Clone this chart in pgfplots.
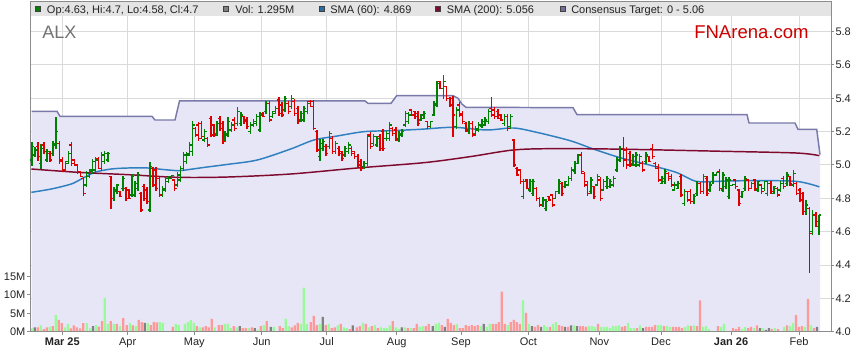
\documentclass[border=0pt]{standalone}
\usepackage{pgfplots}
\pgfplotsset{compat=1.18}
\usepackage{pgfplotstable}
\usepackage{fontspec}
\setmainfont{Liberation Sans}

\definecolor{bargreen}{RGB}{0,128,0}
\definecolor{barred}{RGB}{221,0,0}
\definecolor{volgreen}{RGB}{152,250,152}
\definecolor{volred}{RGB}{255,152,152}
\definecolor{volgray}{RGB}{128,128,128}
\definecolor{lav}{RGB}{230,230,246}
\definecolor{consline}{RGB}{122,122,170}
\definecolor{smablue}{RGB}{48,128,192}
\definecolor{smared}{RGB}{128,10,45}
\definecolor{gridc}{RGB}{218,218,218}
\definecolor{framec}{RGB}{140,140,140}
\definecolor{bandc}{RGB}{228,228,228}
\definecolor{txt}{RGB}{35,35,35}
\definecolor{fnred}{RGB}{204,0,0}

\newcommand{\lbl}{\fontsize{8.25}{9.9}\selectfont}

\pgfdeclareplotmark{otick}{\pgfpathmoveto{\pgfqpoint{-1.7pt}{0pt}}\pgfpathlineto{\pgfqpoint{0pt}{0pt}}\pgfusepathqstroke}
\pgfdeclareplotmark{ctick}{\pgfpathmoveto{\pgfqpoint{0pt}{0pt}}\pgfpathlineto{\pgfqpoint{1.7pt}{0pt}}\pgfusepathqstroke}

\pgfplotstableread{
x h l o c
32.0 5.136 4.996 5.03 5.11
35.0 5.106 5.046 5.06 5.09
41.1 5.126 4.976 5.01 5.10
47.2 5.096 5.016 5.03 5.08
53.2 5.146 5.056 5.07 5.13
56.2 5.290 5.096 5.12 5.20
65.3 5.026 4.956 4.97 5.01
68.4 5.086 5.006 5.02 5.07
86.5 4.966 4.866 4.88 4.95
89.6 4.976 4.926 4.93 4.97
92.6 5.036 4.946 4.96 5.02
95.6 5.046 4.956 4.97 5.03
101.7 5.076 4.966 4.98 5.06
104.7 5.086 5.006 5.02 5.07
107.8 5.076 5.016 5.03 5.07
113.8 4.866 4.786 4.80 4.85
116.8 4.886 4.826 4.84 4.88
122.9 4.936 4.846 4.86 4.92
132.0 4.946 4.806 4.82 4.93
135.0 4.906 4.806 4.82 4.89
138.1 4.956 4.846 4.86 4.94
150.2 5.016 4.716 4.73 4.99
162.3 4.876 4.806 4.82 4.86
165.3 4.936 4.836 4.85 4.92
168.4 4.936 4.896 4.90 4.93
171.4 4.936 4.916 4.92 4.935
177.4 4.956 4.866 4.88 4.94
180.5 4.996 4.896 4.91 4.98
183.5 5.076 4.966 4.98 5.06
186.5 5.076 5.006 5.02 5.06
189.6 5.136 5.056 5.07 5.12
192.6 5.266 5.056 5.08 5.24
204.7 5.216 5.136 5.15 5.20
216.8 5.266 5.176 5.19 5.25
225.0 5.206 5.136 5.15 5.19
228.2 5.286 5.166 5.18 5.26
231.3 5.256 5.196 5.21 5.24
237.7 5.346 5.236 5.25 5.32
240.8 5.316 5.236 5.25 5.30
250.3 5.256 5.186 5.20 5.24
253.5 5.276 5.226 5.24 5.26
256.6 5.306 5.236 5.25 5.29
259.8 5.316 5.196 5.21 5.30
266.1 5.386 5.306 5.32 5.37
272.5 5.326 5.286 5.29 5.32
275.6 5.356 5.306 5.31 5.34
285.1 5.416 5.316 5.33 5.40
291.4 5.420 5.336 5.35 5.40
300.9 5.326 5.256 5.27 5.31
304.1 5.356 5.256 5.27 5.34
307.3 5.386 5.306 5.32 5.37
319.9 5.156 5.026 5.05 5.13
323.1 5.156 5.086 5.10 5.14
329.4 5.206 5.096 5.11 5.19
335.7 5.146 5.066 5.08 5.13
345.2 5.116 5.046 5.06 5.10
348.4 5.136 5.066 5.08 5.12
364.2 5.026 4.976 4.99 5.01
367.4 5.186 4.996 5.01 5.17
373.7 5.186 5.116 5.13 5.17
376.9 5.176 5.106 5.12 5.16
386.4 5.206 5.146 5.16 5.19
389.5 5.256 5.146 5.16 5.24
399.0 5.206 5.136 5.15 5.19
402.2 5.216 5.166 5.18 5.20
405.3 5.326 5.226 5.24 5.31
408.5 5.316 5.246 5.26 5.30
421.0 5.306 5.266 5.27 5.30
424.2 5.326 5.276 5.28 5.31
430.6 5.266 5.226 5.23 5.26
433.8 5.386 5.296 5.30 5.37
437.0 5.506 5.346 5.36 5.49
443.4 5.542 5.396 5.46 5.50
456.3 5.346 5.216 5.23 5.33
469.1 5.266 5.186 5.20 5.25
475.5 5.236 5.176 5.19 5.22
478.7 5.256 5.196 5.21 5.24
481.9 5.276 5.226 5.23 5.26
485.1 5.286 5.236 5.24 5.27
488.3 5.336 5.246 5.26 5.32
504.3 5.306 5.236 5.25 5.29
510.7 5.306 5.216 5.23 5.29
523.6 4.916 4.796 4.81 4.90
530.0 4.916 4.836 4.85 4.90
533.2 4.916 4.816 4.83 4.90
542.8 4.806 4.746 4.76 4.79
546.0 4.796 4.726 4.74 4.78
555.6 4.846 4.796 4.80 4.84
558.8 4.916 4.826 4.84 4.90
565.2 4.906 4.866 4.87 4.90
568.4 4.936 4.876 4.88 4.92
571.6 4.986 4.906 4.92 4.97
574.8 5.026 4.946 4.96 5.01
578.0 5.066 5.006 5.01 5.06
590.9 4.926 4.826 4.84 4.91
597.3 4.946 4.876 4.88 4.93
603.7 4.916 4.846 4.85 4.90
606.9 4.936 4.856 4.87 4.92
610.1 4.916 4.866 4.87 4.90
613.3 4.936 4.866 4.88 4.92
617.0 5.046 4.956 4.97 5.03
620.2 5.116 5.016 5.03 5.10
633.0 5.066 4.996 5.01 5.05
636.2 5.076 4.986 5.00 5.06
639.4 5.066 4.986 5.00 5.05
645.9 5.076 5.006 5.02 5.06
661.9 4.936 4.886 4.89 4.92
665.1 4.976 4.886 4.90 4.96
674.7 4.896 4.846 4.85 4.88
677.9 4.906 4.856 4.86 4.89
684.3 4.856 4.756 4.77 4.84
693.9 4.826 4.766 4.78 4.81
697.2 4.906 4.816 4.83 4.89
703.6 4.946 4.826 4.84 4.93
710.0 4.896 4.836 4.85 4.88
713.2 4.956 4.886 4.90 4.94
716.4 4.956 4.936 4.94 4.955
722.8 4.956 4.836 4.85 4.94
726.0 4.926 4.856 4.87 4.91
729.2 4.926 4.796 4.81 4.91
732.4 4.886 4.876 4.877 4.885
742.0 4.846 4.806 4.81 4.84
745.2 4.936 4.846 4.86 4.92
751.7 4.896 4.856 4.86 4.89
758.1 4.906 4.836 4.85 4.90
764.5 4.906 4.846 4.86 4.90
767.7 4.906 4.816 4.83 4.89
774.1 4.876 4.826 4.83 4.87
780.5 4.906 4.836 4.85 4.89
786.9 4.956 4.876 4.89 4.94
793.3 4.970 4.866 4.88 4.95
806.2 4.79 4.70 4.72 4.76
812.6 4.73 4.58 4.60 4.70
819.0 4.70 4.58 4.63 4.70
}\upbars

\pgfplotstableread{
x h l o c
38.1 5.136 5.026 5.11 5.05
44.1 5.136 5.066 5.12 5.08
50.2 5.086 5.016 5.07 5.03
59.3 5.146 5.006 5.13 5.02
62.3 5.046 4.956 5.03 4.97
71.4 5.136 4.996 5.12 5.01
74.4 5.036 4.996 5.03 5.00
77.5 5.006 4.946 5.00 4.96
80.5 4.966 4.926 4.96 4.93
83.5 4.926 4.816 4.92 4.83
98.7 5.046 4.976 5.04 4.98
110.8 4.936 4.736 4.93 4.80
119.9 4.846 4.806 4.84 4.81
125.9 4.866 4.786 4.86 4.80
129.0 4.856 4.796 4.85 4.80
141.1 4.836 4.716 4.83 4.73
144.1 4.886 4.786 4.87 4.80
147.1 4.866 4.766 4.85 4.78
153.2 4.986 4.866 4.98 4.88
156.2 4.986 4.846 4.97 4.86
159.3 4.926 4.806 4.92 4.82
174.4 4.916 4.846 4.91 4.86
195.6 5.226 5.166 5.22 5.18
198.7 5.256 5.146 5.24 5.16
201.7 5.266 5.156 5.25 5.17
207.7 5.166 5.106 5.16 5.12
210.8 5.296 5.166 5.28 5.18
213.8 5.246 5.166 5.24 5.18
219.9 5.296 5.206 5.28 5.22
222.9 5.266 5.126 5.25 5.14
234.5 5.286 5.206 5.27 5.22
244.0 5.296 5.246 5.29 5.26
247.1 5.286 5.216 5.27 5.23
263.0 5.316 5.286 5.31 5.29
269.3 5.386 5.256 5.37 5.27
278.8 5.406 5.296 5.39 5.31
282.0 5.376 5.286 5.36 5.30
288.3 5.386 5.306 5.37 5.32
294.6 5.396 5.296 5.38 5.31
297.8 5.356 5.246 5.34 5.26
310.4 5.390 5.346 5.38 5.35
313.6 5.390 5.210 5.38 5.22
316.8 5.210 5.076 5.20 5.09
326.2 5.126 5.056 5.11 5.07
332.6 5.176 5.066 5.16 5.08
338.9 5.116 5.056 5.10 5.07
342.1 5.086 5.026 5.08 5.04
351.6 5.116 5.056 5.10 5.07
354.7 5.086 5.036 5.08 5.05
357.9 5.066 4.986 5.05 5.00
361.1 5.036 4.966 5.02 4.98
370.5 5.196 5.096 5.18 5.11
380.0 5.186 5.086 5.17 5.10
383.2 5.216 5.086 5.20 5.10
392.7 5.226 5.176 5.22 5.19
395.9 5.226 5.146 5.21 5.16
411.7 5.336 5.296 5.33 5.30
414.8 5.326 5.276 5.32 5.29
418.0 5.326 5.236 5.31 5.25
427.4 5.266 5.216 5.26 5.23
440.2 5.506 5.456 5.50 5.46
446.6 5.476 5.386 5.47 5.40
449.8 5.406 5.346 5.40 5.36
453.1 5.416 5.166 5.40 5.30
459.5 5.376 5.286 5.36 5.30
462.7 5.326 5.246 5.31 5.26
465.9 5.256 5.196 5.25 5.21
472.3 5.266 5.166 5.25 5.18
491.5 5.406 5.286 5.34 5.30
494.7 5.346 5.276 5.33 5.29
497.9 5.336 5.276 5.32 5.28
501.1 5.306 5.266 5.30 5.27
507.5 5.306 5.206 5.29 5.22
513.9 5.156 4.986 5.15 5.00
517.2 4.986 4.936 4.98 4.94
520.4 4.976 4.886 4.97 4.90
526.8 4.916 4.856 4.91 4.86
536.4 4.866 4.786 4.86 4.80
539.6 4.806 4.746 4.80 4.76
549.2 4.816 4.786 4.81 4.79
552.4 4.826 4.746 4.82 4.76
562.0 4.896 4.816 4.89 4.83
581.3 5.076 4.946 5.06 4.96
584.5 4.956 4.866 4.95 4.88
587.7 4.906 4.816 4.90 4.83
594.1 4.876 4.796 4.87 4.81
600.5 4.926 4.786 4.91 4.80
623.4 5.166 4.986 5.10 5.03
626.6 5.106 4.976 5.09 5.00
629.8 5.086 4.986 5.07 5.00
642.6 5.026 4.956 5.01 4.97
649.1 5.056 5.016 5.05 5.02
652.3 5.126 5.036 5.10 5.05
655.5 5.016 4.976 5.01 4.98
658.7 5.006 4.896 4.99 4.91
668.3 4.956 4.906 4.95 4.92
671.5 4.946 4.866 4.93 4.88
681.1 4.946 4.806 4.93 4.82
687.5 4.846 4.776 4.84 4.79
690.7 4.856 4.766 4.84 4.78
700.4 4.896 4.826 4.89 4.84
706.8 4.936 4.816 4.92 4.83
719.6 4.976 4.846 4.96 4.86
735.6 4.916 4.856 4.91 4.87
738.8 4.856 4.756 4.85 4.77
748.5 4.916 4.846 4.91 4.86
754.9 4.916 4.846 4.91 4.86
761.3 4.886 4.826 4.88 4.84
770.9 4.906 4.826 4.89 4.84
777.3 4.866 4.806 4.86 4.82
783.7 4.936 4.856 4.92 4.87
790.1 4.936 4.876 4.93 4.89
796.5 4.90 4.82 4.89 4.83
799.8 4.86 4.78 4.85 4.79
803.0 4.84 4.70 4.83 4.72
809.4 4.75 4.35 4.74 4.59
815.8 4.72 4.63 4.70 4.66
}\dnbars

\pgfplotstableread{
x v
31.7 0.9
40.7 1.7
49.7 1.3
55.7 4.5
65.0 1.2
68.0 2.1
86.7 2.3
90.0 0.9
96.0 1.8
104.7 9.2
107.7 2.1
113.7 2.1
120.0 1.5
130.0 2.3
135.7 1.5
147.7 2.3
159.7 2.6
162.7 2.4
175.7 2.1
178.7 1.8
184.7 2.1
187.7 2.6
190.7 3.2
193.7 2.4
199.7 1.2
214.7 1.2
224.7 2.1
227.7 2.1
230.7 1.0
236.7 1.2
248.7 1.0
257.7 0.5
263.7 1.8
273.7 1.3
285.7 3.5
288.7 1.5
300.7 2.1
303.7 12.0
306.7 2.1
319.7 2.1
328.7 2.1
337.7 1.7
343.7 1.2
346.7 1.0
362.7 2.4
368.7 1.2
374.7 1.8
380.7 1.2
383.7 1.0
386.7 1.0
389.7 1.7
395.7 1.2
398.7 0.7
404.7 1.2
410.7 1.0
419.7 1.3
422.7 1.5
435.7 2.1
438.7 2.4
456.7 2.1
480.7 1.5
486.7 1.3
489.7 2.1
507.7 1.8
523.0 8.5
529.0 2.1
544.0 1.8
547.0 1.3
553.0 2.1
556.0 2.6
574.0 1.7
589.0 1.5
592.0 1.5
595.0 1.3
601.0 1.3
604.0 1.3
607.0 1.3
610.0 1.0
613.0 1.5
616.0 1.5
619.0 1.7
628.0 2.4
631.0 1.0
634.0 1.0
640.0 1.7
658.0 1.8
661.0 1.8
667.0 1.5
670.0 1.3
685.0 1.3
688.0 1.7
694.0 1.7
703.0 1.3
706.0 1.5
709.0 0.7
721.0 1.3
724.0 2.1
742.0 0.7
745.0 1.3
754.0 1.0
763.0 1.0
775.0 1.0
784.0 1.3
790.0 1.5
793.0 2.4
805.0 1.3
811.0 1.7
}\volg

\pgfplotstableread{
x v
37.7 1.2
43.7 0.7
46.7 1.2
52.7 1.5
58.7 3.2
61.7 2.3
70.7 0.9
73.7 1.7
76.7 1.2
80.0 0.9
83.3 2.3
98.7 1.4
102.0 2.9
110.7 2.9
116.7 2.1
123.3 3.7
126.7 1.8
132.7 1.7
138.7 3.2
141.7 2.6
150.7 1.8
153.7 2.6
156.7 2.5
172.7 1.3
196.7 1.5
202.7 1.2
205.7 1.5
208.7 1.2
211.7 3.5
218.7 1.8
221.7 1.8
233.7 1.5
242.7 1.0
245.7 1.0
251.7 1.2
260.7 1.5
266.7 2.9
279.7 1.5
282.7 1.0
291.7 1.2
294.7 1.7
297.7 2.4
310.7 2.6
313.7 4.3
316.7 1.8
325.7 1.8
331.7 1.0
334.7 1.2
340.7 2.1
349.7 0.7
356.7 1.2
359.7 1.5
365.7 2.1
371.7 1.5
377.7 1.0
392.7 2.9
407.7 1.0
413.7 1.0
416.7 2.1
425.7 1.5
428.7 2.1
441.7 1.8
447.7 3.5
450.7 2.4
453.7 1.8
459.7 1.0
462.7 1.0
465.7 1.8
468.7 1.5
471.7 1.8
474.7 1.5
477.7 1.8
492.7 2.1
495.7 2.1
498.7 2.6
501.7 10.9
504.7 2.1
510.7 2.6
513.7 3.2
516.7 2.6
519.7 2.1
526.0 5.1
535.0 1.3
538.0 1.8
550.0 1.3
559.0 1.8
562.0 1.5
568.0 1.3
580.0 1.5
583.0 1.5
586.0 1.3
598.0 2.1
622.0 1.3
625.0 1.5
637.0 1.0
646.0 1.3
649.0 1.3
652.0 1.3
655.0 1.8
664.0 1.5
673.0 1.3
676.0 1.3
679.0 1.3
682.0 1.0
691.0 1.5
697.0 1.5
700.0 8.5
718.0 1.5
733.0 1.0
736.0 0.7
739.0 1.3
748.0 1.0
751.0 1.3
757.0 1.7
772.0 0.7
778.0 0.7
787.0 1.7
796.0 4.5
799.0 1.3
802.0 1.5
808.0 8.9
814.0 1.0
}\volr

\pgfplotstableread{
x v
34.7 1.2
93.0 1.5
144.7 2.4
239.7 1.5
254.7 1.0
270.7 1.3
322.7 4.0
352.7 1.7
401.7 1.2
432.7 1.5
444.7 1.3
483.7 2.1
532.0 1.5
541.0 1.3
565.0 1.3
571.0 1.7
577.0 1.5
643.0 1.0
760.0 1.0
766.0 0.5
769.0 1.0
817.0 1.3
}\volk

\pgfplotstableread{
x p
31.7 5.322
57 5.322
60 5.292
152 5.292
155 5.270
175 5.270
179.5 5.384
365 5.384
368 5.370
391 5.370
396.7 5.416
453 5.416
458 5.400
462 5.365
466 5.346
573 5.344
577 5.302
747 5.302
749 5.252
795 5.252
798 5.214
816.7 5.214
820 5.062
}\cons

\pgfplotstableread{
x p
31.3 4.836
51.3 4.856
71.3 4.886
81.3 4.916
94.7 4.956
111.3 4.976
128 4.982
148 4.982
161.3 4.974
178 4.966
188 4.972
204.7 4.986
228 5.004
257.3 5.030
290.7 5.096
314 5.150
337.3 5.174
364 5.200
390.7 5.206
420 5.214
453.3 5.226
486.7 5.210
513.3 5.222
536.7 5.196
570 5.146
593.3 5.096
620 5.044
649.3 5.000
676 4.956
696 4.902
716 4.902
749.3 4.906
796 4.902
819.3 4.869
}\smasixty

\pgfplotstableread{
x p
31.3 4.976
78 4.956
128 4.942
178 4.926
228 4.928
290.7 4.946
357.3 4.982
424 5.014
470 5.050
513.3 5.090
553.3 5.098
620 5.095
716 5.083
796 5.072
819.3 5.056
}\smatwo

\pgfplotsset{base/.style={at={(22.5pt,23.25pt)}, anchor=south west,
  width=600.75pt, height=247.5pt, scale only axis,
  xmin=30, xmax=831, enlargelimits=false, clip=true}}

\begin{document}
\begin{tikzpicture}
\useasboundingbox (0,0) rectangle (644.25pt,272.25pt);

% axis 1: grid, ticks, consensus area
\begin{axis}[base, ymin=3.9982, ymax=5.9778,
  axis line style={draw=none},
  grid=major, grid style={gridc, line width=0.75pt},
  xtick={62.3,127.7,194.3,261.7,326.7,396.7,461,528.3,599.3,661,731,799},
  xticklabels={\textbf{Mar 25},Apr,May,Jun,Jul,Aug,Sep,Oct,Nov,Dec,\textbf{Jan 26},Feb},
  xtick pos=left,
  ytick={4.0,4.2,4.4,4.6,4.8,5.0,5.2,5.4,5.6,5.8},
  ytick pos=right, yticklabel pos=right,
  tick align=outside, major tick length=2.6pt,
  tick style={framec, line width=0.75pt},
  xticklabel style={font=\lbl, text=txt, inner sep=1.3pt},
  yticklabel style={font=\lbl, text=txt, inner sep=0.6pt,
    /pgf/number format/fixed, /pgf/number format/fixed zerofill,
    /pgf/number format/precision=1},
  /pgf/number format/assume math mode=true]
\addplot[fill=lav, draw=none, forget plot] table[x=x, y=p] {\cons} \closedcycle;
\addplot[consline, line width=1.1pt] table[x=x, y=p] {\cons};
\end{axis}

% axis 2: volume
\begin{axis}[base, ymin=-0.0815, ymax=89.59,
  axis line style={draw=none},
  xtick=\empty,
  ytick={0,5,10,15}, yticklabels={0M,5M,10M,15M},
  ytick pos=left,
  tick align=outside, major tick length=2.3pt,
  tick style={framec, line width=0.75pt},
  yticklabel style={font=\lbl, text=txt, inner sep=1pt}]
\addplot[ybar, bar width=1.7pt, bar shift=0pt, fill=volgreen, draw=none] table[x=x, y=v] {\volg};
\addplot[ybar, bar width=1.7pt, bar shift=0pt, fill=volred, draw=none] table[x=x, y=v] {\volr};
\addplot[ybar, bar width=1.7pt, bar shift=0pt, fill=volgray, draw=none] table[x=x, y=v] {\volk};
\end{axis}

% axis 3: SMAs and OHLC bars, frame
\begin{axis}[base, ymin=3.9982, ymax=5.9778,
  axis line style={framec, line width=0.75pt},
  xtick=\empty, ytick=\empty]
\addplot[smablue, line width=1.1pt, smooth, tension=0.5] table[x=x, y=p] {\smasixty};
\addplot[smared, line width=1.1pt, smooth, tension=0.5] table[x=x, y=p] {\smatwo};

% up bars: high-low line with open tick (mark), then close tick
\addplot[only marks, mark=otick, mark options={bargreen, line width=0.9pt}, forget plot,
  error bars/.cd, y dir=both, y explicit, error mark=none,
  error bar style={bargreen, line width=1.15pt}]
  table[x=x, y=o, y error plus expr={\thisrow{h}-\thisrow{o}}, y error minus expr={\thisrow{o}-\thisrow{l}}] {\upbars};
\addplot[only marks, mark=ctick, mark options={bargreen, line width=0.9pt}, forget plot] table[x=x, y=c] {\upbars};

% down bars
\addplot[only marks, mark=otick, mark options={barred, line width=0.9pt}, forget plot,
  error bars/.cd, y dir=both, y explicit, error mark=none,
  error bar style={barred, line width=1.15pt}]
  table[x=x, y=o, y error plus expr={\thisrow{h}-\thisrow{o}}, y error minus expr={\thisrow{o}-\thisrow{l}}] {\dnbars};
\addplot[only marks, mark=ctick, mark options={barred, line width=0.9pt}, forget plot] table[x=x, y=c] {\dnbars};
\end{axis}

% header band, legend and titles (pixel coordinates from top-left)
\begin{scope}[x=0.75pt, y=-0.75pt, shift={(0pt,272.25pt)}]
\fill[bandc] (30.5,2.3) rectangle (830.5,16);
\filldraw[fill=bargreen, draw=black!75, line width=0.5pt] (35.7,6.6) rectangle (40.6,11.6);
\node[anchor=base west, inner sep=0pt, text=txt, font=\lbl] at (46.7,13.2) {Op:4.63, Hi:4.7, Lo:4.58, Cl:4.7};
\filldraw[fill=volgray, draw=black!75, line width=0.5pt] (223,6.6) rectangle (227.9,11.6);
\node[anchor=base west, inner sep=0pt, text=txt, font=\lbl] at (235,13.2) {Vol: 1.295M};
\filldraw[fill=smablue!85!black, draw=black!75, line width=0.5pt] (319.3,6.6) rectangle (324.2,11.6);
\node[anchor=base west, inner sep=0pt, text=txt, font=\lbl] at (330,13.2) {SMA (60): 4.869};
\filldraw[fill=smared, draw=black!75, line width=0.5pt] (435,6.6) rectangle (439.9,11.6);
\node[anchor=base west, inner sep=0pt, text=txt, font=\lbl] at (446.5,13.2) {SMA (200): 5.056};
\filldraw[fill=consline!90!black, draw=black!75, line width=0.5pt] (560.5,6.6) rectangle (565.4,11.6);
\node[anchor=base west, inner sep=0pt, text=txt, font=\lbl] at (571,13.2) {Consensus Target: 0 - 5.06};
\node[anchor=base west, inner sep=0pt, text=black!55, font=\fontsize{13.5}{16}\selectfont] at (42,39) {ALX};
\node[anchor=base west, inner sep=0pt, text=fnred, font=\fontsize{13.9}{16}\selectfont] at (694,38.5) {FNArena.com};
\end{scope}
\end{tikzpicture}
\end{document}
